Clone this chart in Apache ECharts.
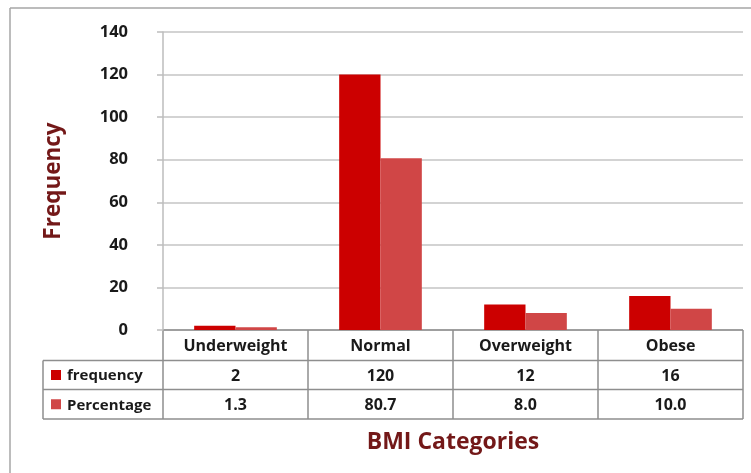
<!DOCTYPE html>
<html><head><meta charset="utf-8">
<script src="https://cdn.jsdelivr.net/npm/echarts@6/dist/echarts.min.js"></script>
<style>html,body{margin:0;padding:0;background:#fff}#c{width:751px;height:473px}</style>
</head><body><div id="c"></div>
<script>
var categories = ['Underweight', 'Normal', 'Overweight', 'Obese'];
var frequency = [2, 120, 12, 16];
var percentage = [1.3, 80.7, 8.0, 10.0];
var seriesNames = ['frequency', 'Percentage'];
var colors = ['#CC0000', '#D04646'];
var yTicks = {min: 0, max: 140, interval: 20};

var FONT = '"Open Sans"';
var chart = echarts.init(document.getElementById('c'));
chart.setOption({
  animation: false,
  grid: {left: 163, right: 8, top: 32, bottom: 143},
  xAxis: {
    type: 'category', data: categories,
    axisLine: {show: false}, axisTick: {show: false}, axisLabel: {show: false},
    name: 'BMI Categories', nameLocation: 'middle', nameGap: 101,
    nameTextStyle: {fontFamily: FONT, fontWeight: 'bold', fontSize: 23, color: '#731818'}
  },
  yAxis: {
    type: 'value', min: yTicks.min, max: yTicks.max, interval: yTicks.interval,
    axisLine: {show: true, lineStyle: {color: '#BDBDBD', width: 1.5}},
    axisTick: {show: true, length: 6, lineStyle: {color: '#BDBDBD', width: 1.5}},
    splitLine: {show: true, lineStyle: {color: '#C4C4C4', width: 1.5}},
    axisLabel: {margin: 35, fontFamily: FONT, fontWeight: 'bold', fontSize: 16.5, color: '#1a1a1a'},
    name: 'Frequency', nameLocation: 'middle', nameGap: 98, nameRotate: 90,
    nameTextStyle: {fontFamily: FONT, fontWeight: 'bold', fontSize: 22.5, color: '#731818'}
  },
  series: [
    {name: seriesNames[0], type: 'bar', data: frequency, barGap: '0%', barCategoryGap: '43%',
     itemStyle: {color: colors[0]}},
    {name: seriesNames[1], type: 'bar', data: percentage, barGap: '0%', barCategoryGap: '43%',
     itemStyle: {color: colors[1]}}
  ]
});

// build data table under the axis
var c0 = chart.convertToPixel({xAxisIndex: 0}, 0);
var c1 = chart.convertToPixel({xAxisIndex: 0}, 1);
var band = c1 - c0;
var y0 = chart.convertToPixel({yAxisIndex: 0}, 0);
var rowH = [30.5, 29, 29.5];
var rowTop = [y0, y0 + rowH[0], y0 + rowH[0] + rowH[1]];
var tableBottom = rowTop[2] + rowH[2];
var gridLeft = c0 - band / 2;
var gridRight = gridLeft + band * categories.length;
var legLeft = 43;
var lineStyle = {stroke: '#8E8E8E', lineWidth: 1.5};
var g = [];
function line(x1, y1, x2, y2) {
  g.push({type: 'line', shape: {x1: x1, y1: y1, x2: x2, y2: y2}, style: lineStyle, silent: true});
}
function text(x, y, s, align, size) {
  g.push({type: 'text', x: x, y: y, style: {text: s, fontFamily: FONT, fontWeight: 'bold', fontSize: size || 16,
    fill: '#1a1a1a', align: align || 'center', verticalAlign: 'middle'}, silent: true});
}
// outer frame
g.push({type: 'line', shape: {x1: 10, y1: 8, x2: 760, y2: 8}, style: {stroke: '#A6A6A6', lineWidth: 1.5}, silent: true});
g.push({type: 'line', shape: {x1: 10, y1: 8, x2: 10, y2: 480}, style: {stroke: '#A6A6A6', lineWidth: 1.5}, silent: true});
// horizontal lines
line(gridLeft, rowTop[0], gridRight, rowTop[0]);
line(legLeft, rowTop[1], gridRight, rowTop[1]);
line(legLeft, rowTop[2], gridRight, rowTop[2]);
line(legLeft, tableBottom, gridRight, tableBottom);
// vertical lines
line(legLeft, rowTop[1], legLeft, tableBottom);
for (var i = 0; i <= categories.length; i++) {
  var x = gridLeft + band * i;
  line(x, rowTop[0], x, tableBottom);
}
// header + values
var rows = [frequency, percentage];
var fmt = [function (v) { return String(v); }, function (v) { return v.toFixed(1); }];
for (var i = 0; i < categories.length; i++) {
  var cx = chart.convertToPixel({xAxisIndex: 0}, i);
  text(cx, rowTop[0] + rowH[0] / 2 + 1, categories[i]);
  for (var r = 0; r < rows.length; r++) {
    text(cx, rowTop[r + 1] + rowH[r + 1] / 2 + 1, fmt[r](rows[r][i]));
  }
}
// legend keys
for (var r = 0; r < seriesNames.length; r++) {
  var cy = rowTop[r + 1] + rowH[r + 1] / 2;
  g.push({type: 'rect', shape: {x: 51, y: cy - 5, width: 10, height: 10}, style: {fill: colors[r]}, silent: true});
  text(67, cy + 1, seriesNames[r], 'left', 15);
}
chart.setOption({graphic: g});
</script></body></html>
